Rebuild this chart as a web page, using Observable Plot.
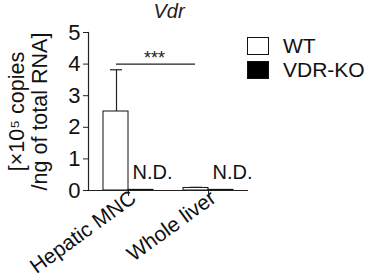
<!DOCTYPE html>
<html>
<head>
<meta charset="utf-8">
<script src="https://cdn.jsdelivr.net/npm/d3@7"></script>
<script src="https://cdn.jsdelivr.net/npm/@observablehq/plot@0.6"></script>
<style>
  body { margin: 0; background: #fff; }
  #wrap { position: relative; width: 369px; height: 280px; font-family: "Liberation Sans", Arial, sans-serif; }
  #title { position: absolute; left: 169px; top: 0px; transform: translateX(-50%); font-style: italic; font-size: 20px; line-height: 22px; color: #222; }
  #legend { position: absolute; left: 247px; top: 34px; font-size: 21px; color: #111; }
  .item { display: flex; align-items: center; height: 24px; }
  .sw { width: 22px; height: 18px; border: 1px solid #111; box-sizing: border-box; margin-right: 14px; }
</style>
</head>
<body>
<div id="wrap">
  <div id="title">Vdr</div>
  <div id="legend"></div>
</div>
<script>
const groups = ["Hepatic MNC", "Whole liver"];
const genotypes = ["WT", "VDR-KO"];
const wtValues = [2.5, 0.08];
const wtErrors = [1.32, 0.02];
const koValues = [0.02, 0.02];
const yTicks = [0, 1, 2, 3, 4, 5];
const ndLabel = "N.D.";
const sigLabel = "***";
const sigLevel = 4.0;
const yLabel = "[×10⁵ copies\n/ng of total RNA]";
const fills = {"WT": "#fff", "VDR-KO": "#000"};

const wt = groups.map((g, i) => ({group: g, value: wtValues[i], top: wtValues[i] + wtErrors[i]}));
const ko = groups.map((g, i) => ({group: g, value: koValues[i]}));

const plot = Plot.plot({
  width: 369,
  height: 280,
  marginLeft: 88,
  marginRight: 121,
  marginTop: 32,
  marginBottom: 90,
  style: {fontFamily: "'Liberation Sans', Arial, sans-serif", color: "#111", background: "transparent", overflow: "visible"},
  x: {domain: groups, padding: 0},
  y: {domain: [0, 5]},
  marks: [
    Plot.barY(wt, {x: "group", y: "value", fill: fills["WT"], stroke: "#111", strokeWidth: 1, insetLeft: 15, insetRight: 40}),
    Plot.barY(ko, {x: "group", y: "value", fill: fills["VDR-KO"], stroke: "#111", strokeWidth: 1, insetLeft: 40, insetRight: 15}),
    Plot.ruleX(wt, {x: "group", y1: "value", y2: "top", stroke: "#222", strokeWidth: 1.2, dx: -12}),
    Plot.tickY(wt, {x: "group", y: "top", stroke: "#222", strokeWidth: 1.2, insetLeft: 22, insetRight: 46}),
    Plot.text(ko, {x: "group", y: 0, text: () => ndLabel, fontSize: 20, dx: 24, dy: -18, fill: "#111"}),
    Plot.ruleY([sigLevel], {x1: () => groups[0], x2: () => groups[1], stroke: "#222", strokeWidth: 1.2, insetLeft: 28, insetRight: 53}),
    Plot.text([sigLabel], {x: () => groups[0], y: sigLevel, text: d => d, fontSize: 18, dx: 26, dy: 0, lineAnchor: "bottom", fill: "#222"}),
    Plot.ruleY([0], {stroke: "#222", strokeWidth: 1.2, insetLeft: -3}),
    Plot.frame({anchor: "left", stroke: "#222", strokeWidth: 1.2}),
    Plot.axisY({ticks: yTicks, tickFormat: d3.format("d"), tickSize: 5, tickPadding: 3, fontSize: 22, label: null, stroke: "#222"}),
    Plot.axisX({tickSize: 6, tickFormat: () => "", label: null, stroke: "#222"}),
    Plot.axisX({tickSize: 0, tickPadding: 5, dx: 5, tickRotate: -36, fontSize: 21, label: null, fill: "#111"}),
    Plot.text([yLabel], {frameAnchor: "left", rotate: -90, textAnchor: "middle", text: d => d, fontSize: 21.5, lineHeight: 1.06, dx: -60, fill: "#111"})
  ]
});
document.getElementById("wrap").prepend(plot);
plot.style.position = "absolute";
plot.style.left = "0";
plot.style.top = "0";

const legend = document.getElementById("legend");
for (const g of genotypes) {
  const item = document.createElement("div");
  item.className = "item";
  const sw = document.createElement("div");
  sw.className = "sw";
  sw.style.background = fills[g];
  item.appendChild(sw);
  const t = document.createElement("span");
  t.textContent = g;
  item.appendChild(t);
  legend.appendChild(item);
}
</script>
</body>
</html>
